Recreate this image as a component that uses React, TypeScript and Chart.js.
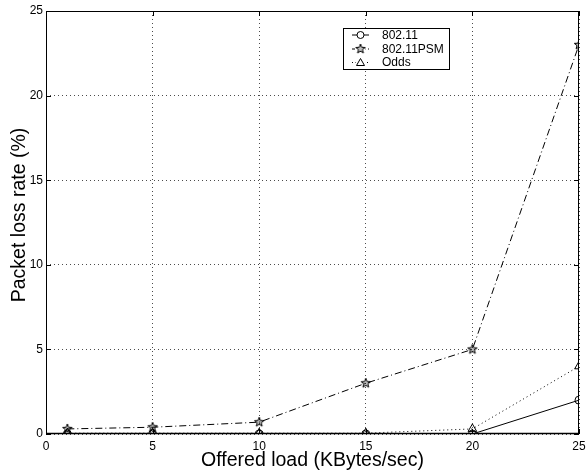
import React, { useEffect, useRef } from "react";
import { Chart, registerables } from "chart.js";

Chart.register(...registerables);

const xValues = [1, 5, 10, 15, 20, 25];
const series80211 = [0, 0, 0, 0, 0, 2];
const series80211PSM = [0.3, 0.4, 0.7, 3, 5, 23];
const seriesOdds = [0.05, 0.05, 0.05, 0.05, 0.3, 4];
const seriesLabels = ["802.11", "802.11PSM", "Odds"];
const xTitle = "Offered load (KBytes/sec)";
const yTitle = "Packet loss rate (%)";
const tickValues = [0, 5, 10, 15, 20, 25];

const FONT = "'Liberation Sans', Arial, Helvetica, sans-serif";

function makeStar(size: number): HTMLCanvasElement {
  const c = document.createElement("canvas");
  c.width = size;
  c.height = size;
  const ctx = c.getContext("2d")!;
  const cx = size / 2;
  const cy = size / 2;
  const R = size / 2 - 1;
  const r = R * 0.42;
  ctx.beginPath();
  for (let i = 0; i < 10; i++) {
    const ang = -Math.PI / 2 + (i * Math.PI) / 5;
    const rad = i % 2 === 0 ? R : r;
    const px = cx + rad * Math.cos(ang);
    const py = cy + rad * Math.sin(ang);
    if (i === 0) ctx.moveTo(px, py);
    else ctx.lineTo(px, py);
  }
  ctx.closePath();
  ctx.fillStyle = "rgba(0,0,0,0.25)";
  ctx.fill();
  ctx.strokeStyle = "#000";
  ctx.lineWidth = 1;
  ctx.stroke();
  return c;
}

export default function App() {
  const ref = useRef<HTMLCanvasElement>(null);
  useEffect(() => {
    if (!ref.current) return;
    const star = makeStar(12);

    const framePlugin = {
      id: "frame",
      afterDatasetsDraw(chart: any) {
        const { ctx, chartArea } = chart;
        const { left, right, top, bottom } = chartArea;
        const xs = chart.scales.x;
        const ys = chart.scales.y;
        ctx.save();
        ctx.strokeStyle = "#000";
        ctx.lineWidth = 1;
        ctx.setLineDash([]);
        ctx.strokeRect(left + 0.5, top + 0.5, right - left - 1, bottom - top - 1);
        ctx.lineWidth = 1.5;
        ctx.beginPath();
        ctx.moveTo(left, bottom - 0.5);
        ctx.lineTo(right, bottom - 0.5);
        ctx.stroke();
        ctx.lineWidth = 1;
        const tl = 5;
        for (const v of tickValues) {
          const px = Math.round(xs.getPixelForValue(v)) + 0.5;
          ctx.beginPath();
          ctx.moveTo(px, bottom);
          ctx.lineTo(px, bottom - tl);
          ctx.moveTo(px, top);
          ctx.lineTo(px, top + tl);
          ctx.stroke();
          const py = Math.round(ys.getPixelForValue(v)) + 0.5;
          ctx.beginPath();
          ctx.moveTo(left, py);
          ctx.lineTo(left + tl, py);
          ctx.moveTo(right, py);
          ctx.lineTo(right - tl, py);
          ctx.stroke();
        }
        // axis titles
        ctx.fillStyle = "#000";
        ctx.font = `19.5px ${FONT}`;
        ctx.textAlign = "center";
        ctx.textBaseline = "alphabetic";
        ctx.fillText(xTitle, (left + right) / 2, 466);
        ctx.save();
        ctx.translate(25, 215);
        ctx.rotate(-Math.PI / 2);
        ctx.fillText(yTitle, 0, 0);
        ctx.restore();
        // legend
        const bx = 343, by = 28, bw = 106, bh = 41;
        ctx.fillStyle = "#fff";
        ctx.fillRect(bx, by, bw, bh);
        ctx.strokeRect(bx + 0.5, by + 0.5, bw, bh);
        const rows = [34.5, 48.5, 62];
        const dashes = [[], [3, 2, 1, 2], [1, 2]];
        ctx.font = `12px ${FONT}`;
        ctx.textAlign = "left";
        ctx.textBaseline = "middle";
        rows.forEach((ry, i) => {
          ctx.setLineDash(dashes[i]);
          ctx.beginPath();
          ctx.moveTo(352, ry + 0.5);
          ctx.lineTo(369, ry + 0.5);
          ctx.stroke();
          ctx.setLineDash([]);
          const mx = 360.5;
          if (i === 0) {
            ctx.fillStyle = "#fff";
            ctx.beginPath();
            ctx.arc(mx, ry + 0.5, 3.5, 0, Math.PI * 2);
            ctx.fill();
            ctx.stroke();
          } else if (i === 1) {
            ctx.fillStyle = "#fff";
            ctx.fillRect(mx - 5, ry - 5, 10, 10);
            ctx.drawImage(star, mx - 6, ry - 5.5);
          } else {
            ctx.fillStyle = "#fff";
            ctx.fillRect(mx - 5, ry - 5, 10, 10);
            ctx.beginPath();
            ctx.moveTo(mx, ry - 3.5);
            ctx.lineTo(mx + 4, ry + 3.5);
            ctx.lineTo(mx - 4, ry + 3.5);
            ctx.closePath();
            ctx.stroke();
          }
          ctx.fillStyle = "#000";
          ctx.fillText(seriesLabels[i], 382, ry + 1);
        });
        ctx.restore();
      },
    };

    const mk = (arr: number[]) => arr.map((y, i) => ({ x: xValues[i], y }));

    const chart = new Chart(ref.current, {
      type: "line",
      data: {
        datasets: [
          {
            label: seriesLabels[0],
            data: mk(series80211),
            borderColor: "#000",
            borderWidth: 1,
            pointStyle: "circle",
            pointRadius: 4,
            pointBackgroundColor: "rgba(255,255,255,0)",
            pointBorderColor: "#000",
            pointBorderWidth: 1,
            tension: 0,
          },
          {
            label: seriesLabels[1],
            data: mk(series80211PSM),
            borderColor: "#000",
            borderWidth: 1,
            borderDash: [7, 3, 1, 3],
            pointStyle: star as any,
            pointRadius: 6,
            tension: 0,
          },
          {
            label: seriesLabels[2],
            data: mk(seriesOdds),
            borderColor: "#000",
            borderWidth: 1,
            borderDash: [1, 3],
            pointStyle: "triangle",
            pointRadius: 5,
            pointBackgroundColor: "rgba(255,255,255,0)",
            pointBorderColor: "#000",
            pointBorderWidth: 1,
            tension: 0,
          },
        ],
      },
      options: {
        responsive: false,
        animation: false,
        layout: { padding: { top: 11, right: 5, left: 0, bottom: 0 } },
        plugins: { legend: { display: false }, tooltip: { enabled: false } },
        scales: {
          x: {
            type: "linear",
            min: 0,
            max: 25,
            afterFit: (s: any) => {
              s.height = 38;
              s.paddingLeft = 0;
              s.paddingRight = 0;
            },
            ticks: {
              stepSize: 5,
              color: "#000",
              padding: 5,
              font: { family: FONT, size: 12 },
            },
            grid: {
              drawTicks: false,
              color: "rgba(0,0,0,0.7)",
              lineWidth: 1,
            },
            border: { display: false, dash: [1, 3] },
          },
          y: {
            type: "linear",
            min: 0,
            max: 25,
            afterFit: (s: any) => {
              s.width = 46;
              s.paddingTop = 0;
              s.paddingBottom = 0;
            },
            ticks: {
              stepSize: 5,
              color: "#000",
              padding: 3,
              font: { family: FONT, size: 12 },
            },
            grid: {
              drawTicks: false,
              color: "rgba(0,0,0,0.7)",
              lineWidth: 1,
            },
            border: { display: false, dash: [1, 3] },
          },
        },
      },
      plugins: [framePlugin],
    } as any);
    return () => chart.destroy();
  }, []);

  return (
    <div style={{ position: "fixed", left: 0, top: 0, width: 586, height: 472, background: "#fff" }}>
      <canvas ref={ref} width={586} height={472} />
    </div>
  );
}
